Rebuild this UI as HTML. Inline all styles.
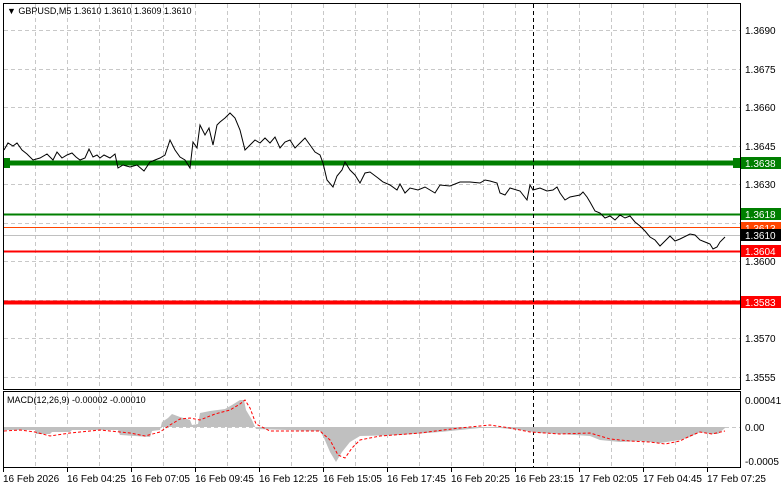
<!DOCTYPE html>
<html><head><meta charset="utf-8"><style>
html,body{margin:0;padding:0;background:#fff;}
svg{display:block;font-family:"Liberation Sans",sans-serif;font-size:10px;}
</style></head><body>
<svg width="781" height="489" viewBox="0 0 781 489" xmlns="http://www.w3.org/2000/svg">
<rect width="781" height="489" fill="#fff"/>
<!-- grid -->
<g stroke="#c8c8c8" stroke-dasharray="4,3" stroke-width="1">
<path d="M35.5 4V389M67.5 4V389M99.5 4V389M131.5 4V389M163.5 4V389M195.5 4V389M227.5 4V389M259.5 4V389M291.5 4V389M323.5 4V389M355.5 4V389M387.5 4V389M419.5 4V389M451.5 4V389M483.5 4V389M515.5 4V389M547.5 4V389M579.5 4V389M611.5 4V389M643.5 4V389M675.5 4V389M707.5 4V389"/>
<path d="M35.5 392V467M67.5 392V467M99.5 392V467M131.5 392V467M163.5 392V467M195.5 392V467M227.5 392V467M259.5 392V467M291.5 392V467M323.5 392V467M355.5 392V467M387.5 392V467M419.5 392V467M451.5 392V467M483.5 392V467M515.5 392V467M547.5 392V467M579.5 392V467M611.5 392V467M643.5 392V467M675.5 392V467M707.5 392V467"/>
<path d="M4 30.5H740M4 69.5H740M4 107.5H740M4 146.5H740M4 184.5H740M4 223.5H740M4 261.5H740M4 300.5H740M4 338.5H740M4 377.5H740M4 427.5H740"/>
</g>
<!-- level lines -->
<line x1="4" y1="163" x2="740" y2="163" stroke="#007f00" stroke-width="5"/>
<rect x="3" y="158" width="7" height="10" fill="#007f00"/>
<rect x="733" y="158" width="7" height="10" fill="#007f00"/>
<line x1="4" y1="214.5" x2="740" y2="214.5" stroke="#007f00" stroke-width="2"/>
<line x1="4" y1="227.5" x2="740" y2="227.5" stroke="#ff4500" stroke-width="1"/>
<line x1="4" y1="235.5" x2="740" y2="235.5" stroke="#c0c0c0" stroke-width="1"/>
<line x1="4" y1="251.5" x2="740" y2="251.5" stroke="#ff0000" stroke-width="2"/>
<line x1="4" y1="302.5" x2="740" y2="302.5" stroke="#ff0000" stroke-width="4"/>
<line x1="533.5" y1="4" x2="533.5" y2="467" stroke="#000" stroke-dasharray="4,3"/>
<!-- price -->
<polyline fill="none" stroke="#000" stroke-width="1" points="4,150 8,143 13,146 17,143 22,150 27,154 33,160 40,158 47,154 53,160 57,152 62,158 67,155 72,153 76,157 80,160 85,158 89,149 93,157 97,155 100,158 104,155 110,158 115,154 118,168 123,165 130,167 137,165 144,171 150,162 155,160 160,158 165,155 170,140 175,150 180,157 185,160 190,168 193,142 197,148 200,125 205,135 209,128 213,145 217,125 220,122 225,118 230,113 235,118 240,130 245,150 250,145 255,140 260,143 265,138 270,143 275,137 280,148 285,142 290,140 295,148 300,143 305,138 310,145 315,152 320,155 323,163 327,180 333,187 337,176 342,170 345,162 350,170 355,175 360,183 365,173 370,172 378,178 383,182 390,185 397,190 400,184 405,193 410,188 418,190 425,187 430,190 435,193 440,185 450,186 455,184 460,182 470,182 480,183 485,180 490,181 497,183 500,193 505,195 510,188 520,191 527,200 530,185 533,190 540,188 547,191 553,190 557,187 560,193 565,200 570,197 575,196 580,195 583,192 587,197 590,202 595,211 600,213 605,218 610,216 615,220 620,215 625,218 630,216 635,222 640,226 645,231 650,237 655,240 660,246 665,241 670,236 675,241 680,239 690,234 695,235 700,240 705,242 710,244 713,249 717,247 720,242 725,237"/>
<!-- MACD hist -->
<path fill="#c0c0c0" d="M4 427 L4 430 L35 430 L36 434 L50 434 L52 432 L70 432 L72 430 L118 430 L120 435 L150 437 L152 431 L160 430 L162 422 L168 418 L172 414 L180 417 L190 420 L192 425 L198 424 L200 413 L210 411 L225 409 L232 405 L240 400 L244 400 L246 410 L252 420 L256 429 L320 431 L324 438 L330 452 L336 462 L342 452 L350 442 L360 436 L400 435 L440 432 L480 428 L500 428 L520 430 L540 433 L560 434 L590 436 L600 440 L620 442 L640 441 L660 443 L680 440 L690 437 L700 432 L710 434 L718 434 L725 428 L725 427 Z"/>
<polyline fill="none" stroke="#ff0000" stroke-dasharray="3,2" stroke-width="1" points="4,431 20,430 35,432 50,436 70,433 100,430 130,433 145,436 160,432 170,425 180,419 190,418 200,420 215,414 230,410 240,404 245,400 250,408 256,424 270,431 300,431 320,431 330,440 338,455 345,458 352,448 360,440 380,436 420,433 460,428 490,425 510,428 530,432 560,434 590,433 610,439 630,441 650,442 665,444 680,441 690,436 700,432 712,434 725,431"/>
<!-- frames -->
<rect x="3.5" y="3.5" width="737" height="386" fill="none" stroke="#000"/>
<rect x="3.5" y="391.5" width="737" height="76" fill="none" stroke="#000"/>
<!-- right axis labels -->
<g fill="#000">
<text x="745" y="34">1.3690</text>
<text x="745" y="73">1.3675</text>
<text x="745" y="111">1.3660</text>
<text x="745" y="150">1.3645</text>
<text x="745" y="188">1.3630</text>
<text x="745" y="265">1.3600</text>
<text x="745" y="342">1.3570</text>
<text x="745" y="381">1.3555</text>
<text x="745" y="404">0.00041</text>
<text x="745" y="431">0.00</text>
<text x="745" y="465">-0.0005</text>
</g>
<rect x="741" y="157" width="40" height="12" fill="#007f00"/><text x="745" y="167" fill="#fff">1.3638</text>
<rect x="741" y="208" width="40" height="12" fill="#007f00"/><text x="745" y="218" fill="#fff">1.3618</text>
<rect x="741" y="222" width="40" height="12" fill="#ff4500"/><text x="745" y="232" fill="#fff">1.3613</text>
<rect x="741" y="229" width="40" height="12" fill="#000"/><text x="745" y="239" fill="#fff">1.3610</text>
<rect x="741" y="245" width="40" height="12" fill="#ff0000"/><text x="745" y="255" fill="#fff">1.3604</text>
<rect x="741" y="296" width="40" height="12" fill="#ff0000"/><text x="745" y="306" fill="#fff">1.3583</text>
<!-- bottom axis -->
<g stroke="#000"><path d="M3.5 467V472M67.5 467V472M131.5 467V472M195.5 467V472M259.5 467V472M323.5 467V472M387.5 467V472M451.5 467V472M515.5 467V472M579.5 467V472M643.5 467V472M707.5 467V472"/></g>
<g fill="#000">
<text x="3" y="482">16 Feb 2026</text>
<text x="67" y="482">16 Feb 04:25</text>
<text x="131" y="482">16 Feb 07:05</text>
<text x="195" y="482">16 Feb 09:45</text>
<text x="259" y="482">16 Feb 12:25</text>
<text x="323" y="482">16 Feb 15:05</text>
<text x="387" y="482">16 Feb 17:45</text>
<text x="451" y="482">16 Feb 20:25</text>
<text x="515" y="482">16 Feb 23:15</text>
<text x="579" y="482">17 Feb 02:05</text>
<text x="643" y="482">17 Feb 04:45</text>
<text x="707" y="482">17 Feb 07:25</text>
</g>
<text x="7" y="14" fill="#000" font-size="9">▼ GBPUSD,M5  1.3610 1.3610 1.3609 1.3610</text>
<text x="7" y="403" fill="#000" font-size="9">MACD(12,26,9) -0.00002 -0.00010</text>
</svg>
</body></html>
